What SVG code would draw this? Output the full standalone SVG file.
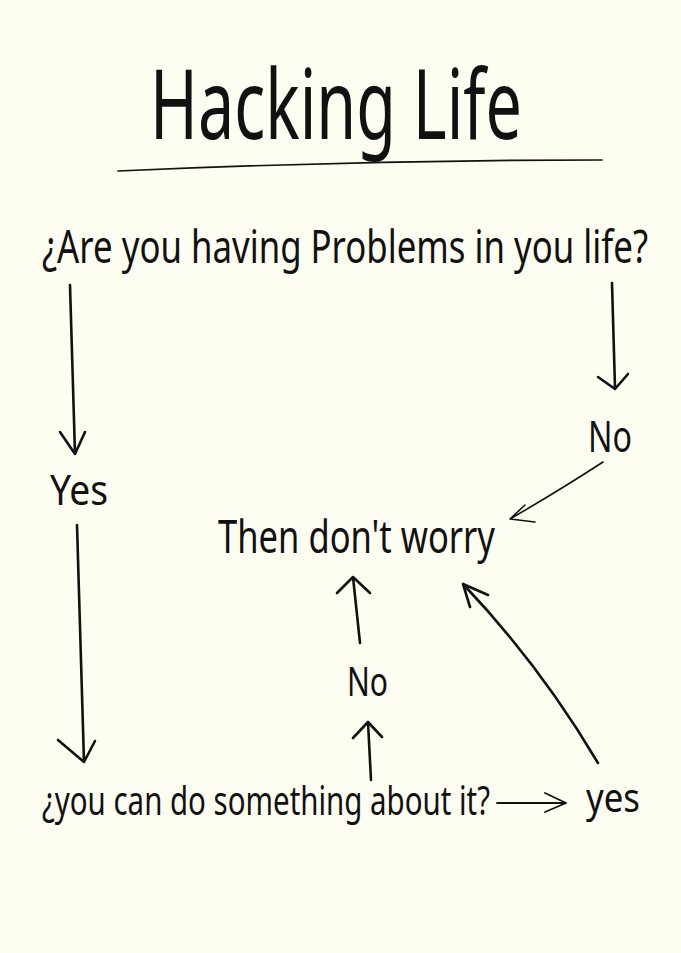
<svg xmlns="http://www.w3.org/2000/svg" width="681" height="953" viewBox="0 0 681 953">
<style>
.t{font-family:"Noto Sans","DejaVu Sans",sans-serif;fill:#111;}
.c{fill:none;stroke:#111;stroke-linecap:round;stroke-linejoin:round;}
</style>
<rect width="681" height="953" fill="#fefdf1"/>
<g id="title">
<text class="t" x="150" y="139" font-size="96" textLength="372" lengthAdjust="spacingAndGlyphs">Hacking Life</text>
<path class="c" d="M118 171 Q360 160 602 160" stroke-width="1.6"/>
</g>
<g id="q1"><text class="t" x="42" y="263" font-size="46" textLength="606" lengthAdjust="spacingAndGlyphs">¿Are you having Problems in you life?</text></g>
<g id="yes1"><text class="t" x="50" y="505" font-size="42" textLength="58" lengthAdjust="spacingAndGlyphs">Yes</text></g>
<g id="no1"><text class="t" x="588" y="452" font-size="44" textLength="44" lengthAdjust="spacingAndGlyphs">No</text></g>
<g id="worry"><text class="t" x="218" y="553" font-size="46" textLength="277" lengthAdjust="spacingAndGlyphs">Then don't worry</text></g>
<g id="no2"><text class="t" x="347" y="696" font-size="40" textLength="41" lengthAdjust="spacingAndGlyphs">No</text></g>
<g id="q2"><text class="t" x="42" y="815" font-size="40" textLength="448" lengthAdjust="spacingAndGlyphs">¿you can do something about it?</text></g>
<g id="yes2"><text class="t" x="586" y="812" font-size="40" textLength="54" lengthAdjust="spacingAndGlyphs">yes</text></g>
<g id="connectors">
<path class="c" stroke-width="2.6" d="M70 285 L75 454 M60 432 L75 454 L85 432"/>
<path class="c" stroke-width="2.6" d="M612 283 L615 388 M598 377 L615 389 L628 374"/>
<path class="c" stroke-width="1.6" d="M603 462 Q560 490 510 519 M525 505 L510 519 L535 522"/>
<path class="c" stroke-width="2.6" d="M77 525 L84 762 M58 740 L84 762 L95 741"/>
<path class="c" stroke-width="1.8" d="M497 803 L566 803 M545 793 L566 803 L545 812"/>
<path class="c" stroke-width="2.6" d="M360 643 L353 577 M337 593 L353 577 L370 593"/>
<path class="c" stroke-width="2.6" d="M371 780 L368 722 M353 738 L368 722 L382 737"/>
<path class="c" stroke-width="2.6" d="M598 763 Q540 665 463 584 M470 607 L463 584 L488 595"/>
</g>
</svg>
